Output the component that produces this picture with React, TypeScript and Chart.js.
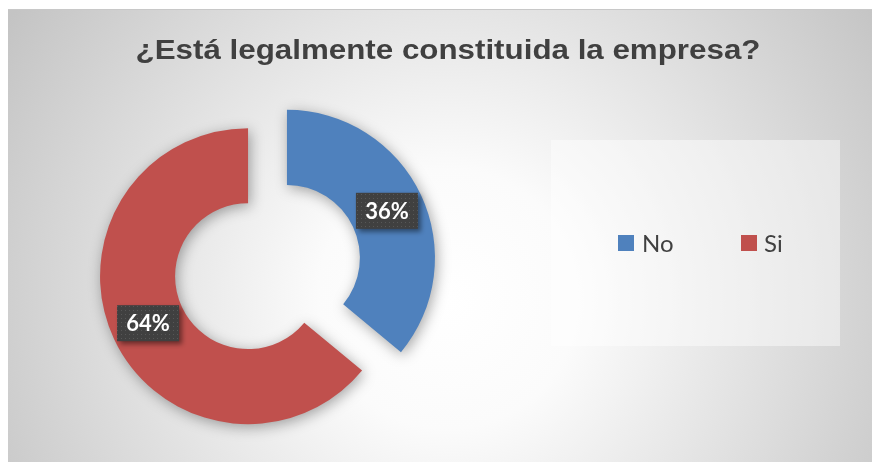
import React, { useEffect, useRef } from "react";
import { Chart, registerables } from "chart.js";

Chart.register(...registerables);

const TITLE = "¿Está legalmente constituida la empresa?";
const categories = ["No", "Si"];
const values = [36, 64];
const colors = ["#4F81BD", "#C0504D"];
const valueLabels = ["36%", "64%"];

const EXPLODE = 21.5;

function midAngle(arc: any) {
  return (arc.startAngle + arc.endAngle) / 2;
}

const decorPlugin = {
  id: "decor",
  beforeDraw(chart: any) {
    const ctx = chart.ctx;
    const w = chart.width;
    const h = chart.height;
    ctx.save();
    const g = ctx.createRadialGradient(440, 290, 0, 440, 290, 520);
    g.addColorStop(0, "#ffffff");
    g.addColorStop(0.25, "#fbfbfb");
    g.addColorStop(1, "#c4c4c4");
    ctx.fillStyle = g;
    ctx.fillRect(0, 0, w, h);
    ctx.strokeStyle = "#c8c8c8";
    ctx.lineWidth = 1;
    ctx.beginPath();
    ctx.moveTo(0, 0.5);
    ctx.lineTo(w, 0.5);
    ctx.stroke();
    // title
    ctx.save();
    ctx.translate(440, 50);
    ctx.scale(1.16, 1);
    ctx.fillStyle = "#404040";
    ctx.font = "bold 27px 'Liberation Sans', Arial, sans-serif";
    ctx.textAlign = "center";
    ctx.textBaseline = "alphabetic";
    ctx.fillText(TITLE, 0, 0);
    ctx.restore();
    // legend box
    ctx.fillStyle = "rgba(255,255,255,0.45)";
    ctx.fillRect(543, 131, 289, 206);
    ctx.restore();
  },
  beforeDatasetDraw(chart: any, args: any) {
    const ctx = chart.ctx;
    const meta = chart.getDatasetMeta(args.index);
    ctx.save();
    ctx.shadowColor = "rgba(0,0,0,0.35)";
    ctx.shadowBlur = 14;
    ctx.shadowOffsetX = 2;
    ctx.shadowOffsetY = 3;
    meta.data.forEach((arc: any) => {
      const a = midAngle(arc);
      ctx.save();
      ctx.translate(Math.cos(a) * EXPLODE, Math.sin(a) * EXPLODE);
      arc.draw(ctx);
      ctx.restore();
    });
    ctx.restore();
    return false;
  },
  afterDraw(chart: any) {
    const ctx = chart.ctx;
    const meta = chart.getDatasetMeta(0);
    const pc = document.createElement("canvas");
    pc.width = 4;
    pc.height = 4;
    const p = pc.getContext("2d")!;
    p.fillStyle = "#404040";
    p.fillRect(0, 0, 4, 4);
    p.fillStyle = "#575757";
    p.fillRect(1, 1, 1, 1);
    const pattern = ctx.createPattern(pc, "repeat");

    meta.data.forEach((arc: any, i: number) => {
      const a = midAngle(arc);
      const r = (arc.innerRadius + arc.outerRadius) / 2 + EXPLODE;
      const cx = arc.x + Math.cos(a) * r;
      const cy = arc.y + Math.sin(a) * r;
      const bw = 62;
      const bh = 36;
      ctx.save();
      ctx.shadowColor = "rgba(0,0,0,0.45)";
      ctx.shadowBlur = 5;
      ctx.shadowOffsetX = 3;
      ctx.shadowOffsetY = 3;
      ctx.fillStyle = pattern || "#404040";
      ctx.fillRect(cx - bw / 2, cy - bh / 2, bw, bh);
      ctx.restore();
      ctx.save();
      ctx.fillStyle = "#ffffff";
      ctx.font = "bold 22px Lato, 'Open Sans', sans-serif";
      ctx.textAlign = "center";
      ctx.textBaseline = "middle";
      ctx.fillText(valueLabels[i], cx, cy + 1);
      ctx.restore();
    });

    const items = [
      { sx: 610, tx: 634 },
      { sx: 733, tx: 756 },
    ];
    ctx.save();
    categories.forEach((c, i) => {
      ctx.fillStyle = colors[i];
      ctx.fillRect(items[i].sx, 226, 16, 16);
      ctx.fillStyle = "#404040";
      ctx.font = "24px Lato, 'Open Sans', sans-serif";
      ctx.textAlign = "left";
      ctx.textBaseline = "middle";
      ctx.fillText(c, items[i].tx, 235);
    });
    ctx.restore();
  },
};

export default function App() {
  const ref = useRef<HTMLCanvasElement | null>(null);
  useEffect(() => {
    if (!ref.current) return;
    const chart = new Chart(ref.current, {
      type: "doughnut",
      data: {
        labels: categories,
        datasets: [
          {
            data: values,
            backgroundColor: colors,
            borderWidth: 0,
          },
        ],
      },
      options: {
        animation: false,
        responsive: false,
        radius: 148,
        cutout: "49.3%",
        layout: { padding: { left: 0, right: 353, top: 63, bottom: 0 } },
        plugins: {
          legend: { display: false },
          title: { display: false },
          tooltip: { enabled: false },
        },
      },
      plugins: [decorPlugin],
    });
    return () => chart.destroy();
  }, []);
  return (
    <div style={{ paddingTop: 1 }}>
      <canvas ref={ref} width={872} height={453} style={{ display: "block" }} />
    </div>
  );
}
